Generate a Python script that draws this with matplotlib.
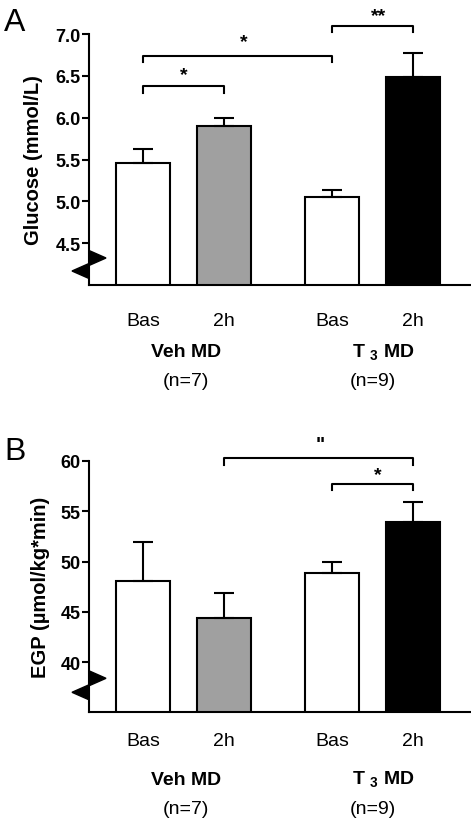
import matplotlib
matplotlib.use('Agg')
import matplotlib.pyplot as plt
import matplotlib.transforms as mtransforms
from matplotlib.patches import Polygon
import numpy as np

plt.rcParams['font.family'] = ['Liberation Sans', 'DejaVu Sans']
plt.rcParams['mathtext.fontset'] = 'custom'
plt.rcParams['mathtext.rm'] = 'Liberation Sans'
plt.rcParams['mathtext.bf'] = 'Liberation Sans:bold'

# data
positions = [0, 1.5, 3.5, 5.0]
bar_labels = ['Bas', '2h', 'Bas', '2h']
bar_colors = ['white', '#a0a0a0', 'white', 'black']
groups = ['Veh MD', r'T $_{\mathbf{3}}$ MD']
group_n = ['(n=7)', '(n=9)']

glucose_mean = [5.46, 5.905, 5.05, 6.49]
glucose_sem = [0.16, 0.095, 0.087, 0.28]
glucose_ticks = [4.5, 5.0, 5.5, 6.0, 6.5, 7.0]

egp_mean = [48.08, 44.43, 48.81, 53.98]
egp_sem = [3.85, 2.46, 1.13, 1.92]
egp_ticks = [40, 45, 50, 55, 60]

# brackets: (bar i, bar j, line y, leg length, label, label x, label y)
glucose_brackets = [(0, 1, 6.373, 0.075, '*', 0.75, 6.583),
                    (0, 2, 6.738, 0.075, '*', 1.87, 6.976),
                    (2, 3, 7.099, 0.075, '**', 4.35, 7.286)]
egp_brackets = [(1, 3, 60.28, 0.65, '"', 3.28, 62.2),
                (2, 3, 57.72, 0.6, '*', 4.35, 59.2)]

W, H = 471, 828
LW = 1.5
fig = plt.figure(figsize=(W / 100, H / 100), dpi=100)


def panel(rect, means, sems, ylim, ticks, ticklabels, ylabel, brackets,
          letter, letter_y, xpad, label_x, tri_y):
    ax = fig.add_axes(rect)
    ax.bar(positions, means, width=1.0, color=bar_colors, edgecolor='black',
           linewidth=LW, zorder=2)
    ax.errorbar(positions, means, yerr=[np.zeros(len(sems)), sems], fmt='none',
                ecolor='black', elinewidth=LW, capsize=7.5, capthick=LW, zorder=3)
    ax.set_xlim(-1.0, 6.05)
    ax.set_ylim(*ylim)
    ax.set_yticks(ticks, ticklabels, fontsize=13, fontweight='bold')
    ax.set_xticks(positions, bar_labels, fontsize=14)
    ax.tick_params(axis='x', length=0, pad=xpad)
    ax.tick_params(axis='y', length=5, width=LW, pad=1.2, direction='out')
    for s in ['top', 'right']:
        ax.spines[s].set_visible(False)
    for s in ['left', 'bottom']:
        ax.spines[s].set_linewidth(LW)

    ax.text(label_x, 0.5, ylabel, rotation=90, ha='center', va='center',
            fontsize=14.5, fontweight='bold', transform=ax.transAxes)

    # group labels under the bars
    trans = mtransforms.blended_transform_factory(ax.transData, ax.transAxes)
    gx = [(positions[0] + positions[1]) / 2 + 0.05, (positions[2] + positions[3]) / 2 + 0.2]
    nx = [(positions[0] + positions[1]) / 2 + 0.05, (positions[2] + positions[3]) / 2]
    for k in range(2):
        ax.text(gx[k], -0.266, groups[k], ha='center', va='center', fontsize=14,
                fontweight='bold', transform=trans)
        ax.text(nx[k], -0.382, group_n[k], ha='center', va='center', fontsize=14,
                transform=trans)

    # significance brackets
    for i, j, yl, leg, lab, lx, ly in brackets:
        x0, x1 = positions[i], positions[j]
        ax.plot([x0, x0, x1, x1], [yl - leg, yl, yl, yl - leg], color='black',
                lw=LW, clip_on=False, zorder=4)
        ax.annotate(lab, xy=(lx, ly), xytext=(0, -0.5 * 14), textcoords='offset points',
                    ha='center', va='baseline', fontsize=14, fontweight='bold',
                    annotation_clip=False)

    # axis-break arrowheads on the y axis
    w = 17 / (rect[2] * W)
    h = 15 / (rect[3] * H)
    yr, yl_ = tri_y
    ax.add_patch(Polygon([(0, yr + h / 2), (0, yr - h / 2), (w, yr)], closed=True,
                         color='black', transform=ax.transAxes, clip_on=False, zorder=5))
    ax.add_patch(Polygon([(0, yl_ + h / 2), (0, yl_ - h / 2), (-w, yl_)], closed=True,
                         color='black', transform=ax.transAxes, clip_on=False, zorder=5))

    fig.text(4 / W, 1 - letter_y / H, letter, fontsize=23, ha='left', va='top')
    return ax


axA = panel([89 / W, 1 - 286 / H, 381 / W, 251 / H], glucose_mean, glucose_sem,
            (4.0, 7.0), glucose_ticks, ['%.1f' % t for t in glucose_ticks],
            'Glucose (mmol/L)', glucose_brackets, 'A', 8, 19.5, -0.146,
            (27 / 251, 14 / 251))
axB = panel([89 / W, 1 - 713.3 / H, 381 / W, 251.3 / H], egp_mean, egp_sem,
            (35, 60), egp_ticks, [str(t) for t in egp_ticks],
            'EGP (µmol/kg*min)', egp_brackets, 'B', 437, 14.0, -0.126,
            (34 / 251.3, 20 / 251.3))

fig.savefig('out.png', dpi=100)
